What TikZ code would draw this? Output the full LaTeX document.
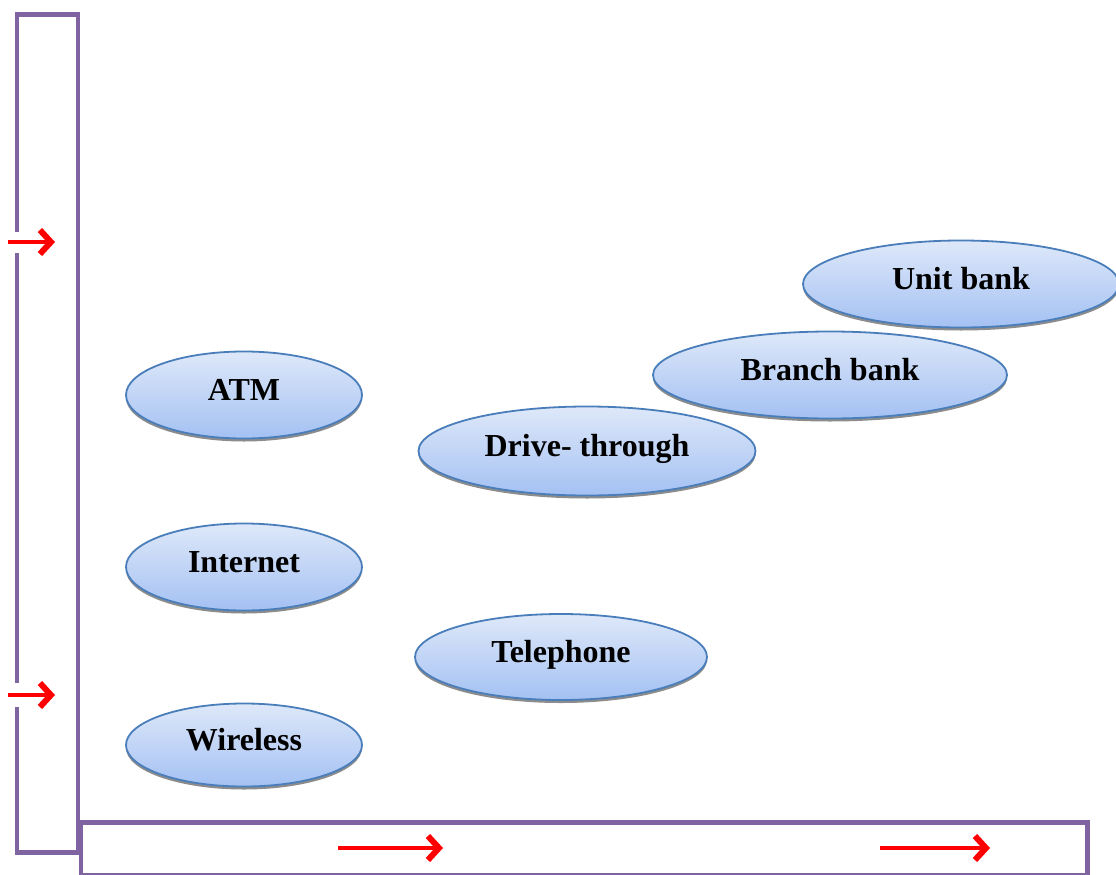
\documentclass[tikz,border=0pt]{standalone}
\usepackage{fontspec}
\setmainfont{Liberation Serif}
\usetikzlibrary{arrows.meta,shapes.geometric,shadows}
\definecolor{framepurple}{HTML}{8064A2}
\definecolor{ovaltop}{HTML}{DEE8F9}
\definecolor{ovalbottom}{HTML}{A4C1F3}
\definecolor{ovalline}{HTML}{4A7EBB}
\definecolor{arrowred}{HTML}{FF0000}
\tikzset{
  frame/.style={draw=framepurple,line width=4.6pt},
  oval/.style={ellipse,draw=ovalline,line width=1.8pt,inner sep=0pt,
    top color=ovaltop,bottom color=ovalbottom,
    drop shadow={shadow xshift=0pt,shadow yshift=-3pt,fill=black!45,opacity=1},
    font=\fontsize{32}{38}\selectfont\bfseries,
    text height=22pt,text depth=12pt},
  redarrow/.style={draw=arrowred,line width=4.6pt,
    -{Straight Barb[length=11pt,width=24pt,line width=6pt,line cap=butt,line join=miter]}},
  gap/.style={fill=white,draw=none}
}
\begin{document}
\begin{tikzpicture}[x=1pt,y=-1pt]
\useasboundingbox (0,0) rectangle (1116,875);
% axis frames
\node[frame,draw,fill=none,minimum width=61pt,minimum height=838pt,inner sep=0pt,anchor=north west] (vaxis) at (14.5,12) {};
\node[frame,draw,fill=none,minimum width=1006.5pt,minimum height=52.5pt,inner sep=0pt,anchor=north west] (haxis) at (78.5,820) {};
% openings in the vertical frame where the arrows enter
\fill[gap] (8,232) rectangle (22,253);
\fill[gap] (8,683) rectangle (22,707);
% arrows
\coordinate (a1s) at (8,242);  \coordinate (a1e) at (55,242);
\coordinate (a2s) at (8,695);  \coordinate (a2e) at (55,695);
\coordinate (b1s) at (338,848); \coordinate (b1e) at (443,848);
\coordinate (b2s) at (880,848); \coordinate (b2e) at (990,848);
\draw[redarrow] (a1s) -- (a1e);
\draw[redarrow] (a2s) -- (a2e);
\draw[redarrow] (b1s) -- (b1e);
\draw[redarrow] (b2s) -- (b2e);
% delivery channels
\node[oval,minimum width=236pt,minimum height=87pt] (atm) at (244,395) {ATM};
\node[oval,minimum width=236pt,minimum height=87pt] (internet) at (244,567) {Internet};
\node[oval,minimum width=236pt,minimum height=83pt] (wireless) at (244,745) {Wireless};
\node[oval,minimum width=337pt,minimum height=89pt] (drive) at (587,451) {Drive- through};
\node[oval,minimum width=292pt,minimum height=86pt] (phone) at (561,657) {Telephone};
\node[oval,minimum width=354pt,minimum height=87pt] (branch) at (830,375) {Branch bank};
\node[oval,minimum width=316pt,minimum height=87pt] (unit) at (961,284) {Unit bank};
\end{tikzpicture}
\end{document}
